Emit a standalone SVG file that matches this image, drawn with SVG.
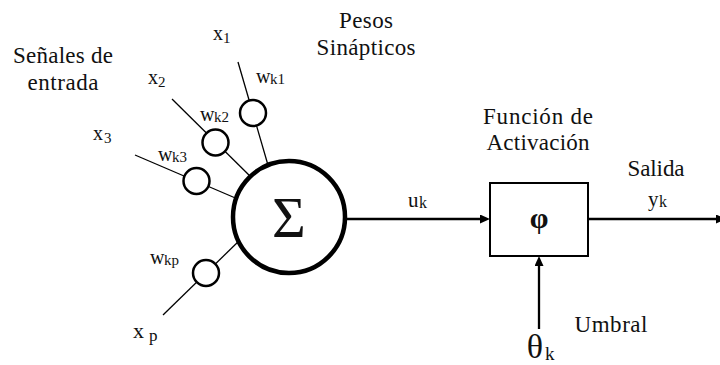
<svg xmlns="http://www.w3.org/2000/svg" width="720" height="365" viewBox="0 0 720 365">
<style>
text{font-family:"Liberation Serif","Times New Roman",serif;fill:#111}
.lbl{font-size:23px}
.var{font-size:20px}
.sub{font-size:15px}
.in{stroke:#000;stroke-width:1.3;fill:none}
.conn{stroke:#000;stroke-width:2.3;fill:none}
.w{fill:#fff;stroke:#000;stroke-width:2.5}
</style>
<defs>
<marker id="arr" markerUnits="userSpaceOnUse" markerWidth="11" markerHeight="10" refX="2" refY="4.5" orient="auto">
<path d="M0,0 L10,4.5 L0,9 z" fill="#000"/>
</marker>
</defs>
<rect width="720" height="365" fill="#fff"/>
<g id="connectors">
<line class="in" x1="238" y1="62" x2="270" y2="172"/>
<line class="in" x1="172" y1="99" x2="255" y2="181"/>
<line class="in" x1="135" y1="155" x2="240" y2="200"/>
<line class="in" x1="163" y1="315" x2="242" y2="238"/>
<line class="conn" x1="340" y1="219" x2="482" y2="219" marker-end="url(#arr)"/>
<line class="conn" x1="588" y1="219" x2="718" y2="219" marker-end="url(#arr)"/>
<line class="conn" x1="539" y1="329" x2="539" y2="264" marker-end="url(#arr)"/>
</g>
<g id="labels">
<text class="lbl" x="63" y="63" text-anchor="middle" textLength="100">Señales de</text>
<text class="lbl" x="63" y="90" text-anchor="middle" textLength="71">entrada</text>
<text class="lbl" x="366" y="28" text-anchor="middle" textLength="54">Pesos</text>
<text class="lbl" x="366" y="55" text-anchor="middle" textLength="99">Sinápticos</text>
<text class="lbl" x="538" y="124" text-anchor="middle" textLength="110">Función de</text>
<text class="lbl" x="538" y="150" text-anchor="middle" textLength="103">Activación</text>
<text class="lbl" x="656" y="176" text-anchor="middle" textLength="57">Salida</text>
<text class="lbl" x="611" y="332" text-anchor="middle" textLength="73">Umbral</text>
</g>
<g id="inputs">
<text class="var" x="213" y="40">x</text><text class="sub" x="223" y="43">1</text>
<text class="var" x="148" y="84">x</text><text class="sub" x="158" y="87">2</text>
<text class="var" x="93" y="140">x</text><text class="sub" x="104" y="143">3</text>
<text style="font-size:22px" x="133" y="338">x</text><text style="font-size:17px" x="149" y="341">p</text>
</g>
<g id="w1">
<circle class="w" cx="253" cy="113" r="13"/>
<text class="var" x="256" y="83">w</text><text class="sub" x="270" y="84">k1</text>
</g>
<g id="w2">
<circle class="w" cx="215.5" cy="142.5" r="13"/>
<text class="var" x="200" y="121">w</text><text class="sub" x="214" y="122">k2</text>
</g>
<g id="w3">
<circle class="w" cx="196.5" cy="181" r="13"/>
<text class="var" x="158" y="161">w</text><text class="sub" x="172" y="162">k3</text>
</g>
<g id="wp">
<circle class="w" cx="206" cy="273" r="13"/>
<text class="var" x="150" y="264">w</text><text class="sub" x="164" y="265">kp</text>
</g>
<g id="sum">
<circle cx="289" cy="217" r="56" fill="#fff" stroke="#000" stroke-width="4.5"/>
<text x="289" y="237" text-anchor="middle" style="font-size:58px">Σ</text>
</g>
<g id="activation">
<rect x="490" y="183" width="98" height="73" fill="#fff" stroke="#000" stroke-width="2"/>
<text x="539" y="228" text-anchor="middle" style="font-size:30px;font-weight:bold">φ</text>
</g>
<g id="edge-labels">
<text style="font-size:21px" x="408" y="207">u</text><text style="font-size:16px" x="419" y="208">k</text>
<text style="font-size:21px" x="648" y="206">y</text><text style="font-size:16px" x="659" y="207">k</text>
</g>
<g id="threshold">
<text style="font-size:34px" x="535" y="358" text-anchor="middle">θ</text><text style="font-size:19px" x="545" y="360">k</text>
</g>
</svg>
